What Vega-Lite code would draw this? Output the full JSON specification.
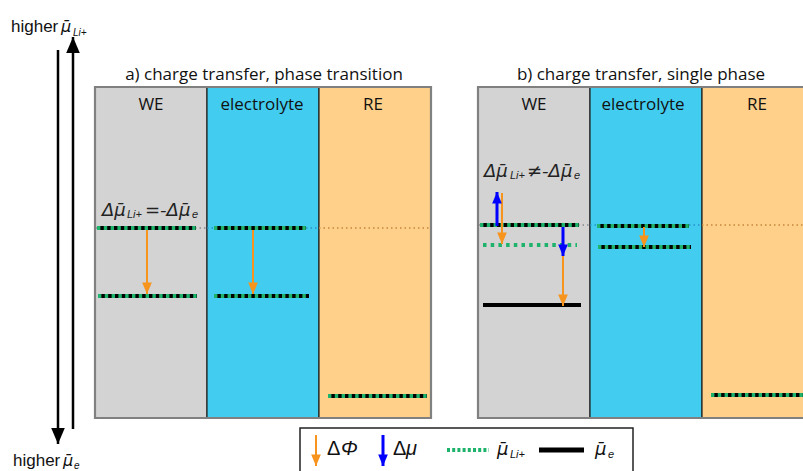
{
  "$schema": "https://vega.github.io/schema/vega-lite/v6.json",
  "width": 803,
  "height": 471,
  "padding": 0,
  "autosize": {"type": "none"},
  "background": "white",
  "config": {"view": {"stroke": null}},
  "resolve": {"scale": {"fill": "independent", "stroke": "independent", "strokeWidth": "independent"}},
  "datasets": {
    "regions": [
      {"panel": "a", "region": "WE", "x": 95, "x2": 207, "y": 87, "y2": 418},
      {"panel": "a", "region": "electrolyte", "x": 207, "x2": 319, "y": 87, "y2": 418},
      {"panel": "a", "region": "RE", "x": 319, "x2": 431, "y": 87, "y2": 418},
      {"panel": "b", "region": "WE", "x": 478, "x2": 590, "y": 87, "y2": 418},
      {"panel": "b", "region": "electrolyte", "x": 590, "x2": 702, "y": 87, "y2": 418},
      {"panel": "b", "region": "RE", "x": 702, "x2": 814, "y": 87, "y2": 418}
    ],
    "panels": [
      {"panel": "a", "x": 95, "x2": 431, "y": 87, "y2": 418},
      {"panel": "b", "x": 478, "x2": 814, "y": 87, "y2": 418}
    ],
    "refs": [
      {"tone": "WE", "x": 96, "x2": 207, "y": 228},
      {"tone": "electrolyte", "x": 207, "x2": 319, "y": 228},
      {"tone": "RE", "x": 319, "x2": 431, "y": 228},
      {"tone": "WE", "x": 479, "x2": 590, "y": 225},
      {"tone": "electrolyte", "x": 590, "x2": 702, "y": 225},
      {"tone": "RE", "x": 702, "x2": 803, "y": 225}
    ],
    "levels": [
      {"kind": "both", "x": 97, "x2": 196, "y": 228},
      {"kind": "both", "x": 98, "x2": 197, "y": 296},
      {"kind": "both", "x": 214, "x2": 306, "y": 228},
      {"kind": "both", "x": 214, "x2": 309, "y": 296},
      {"kind": "both", "x": 328, "x2": 427, "y": 396},
      {"kind": "both", "x": 480, "x2": 579, "y": 225},
      {"kind": "li", "x": 483, "x2": 577, "y": 245},
      {"kind": "e", "x": 483, "x2": 581, "y": 305},
      {"kind": "both", "x": 597, "x2": 689, "y": 226},
      {"kind": "both", "x": 598, "x2": 691, "y": 247},
      {"kind": "both", "x": 711, "x2": 803, "y": 395}
    ],
    "legendlines": [
      {"kind": "li", "x": 447, "x2": 489, "y": 450},
      {"kind": "e", "x": 539, "x2": 584, "y": 450}
    ],
    "arrows": [
      {"kind": "phi", "dir": "down", "x": 147, "y": 230, "y2": 294},
      {"kind": "phi", "dir": "down", "x": 253, "y": 230, "y2": 294},
      {"kind": "mu", "dir": "up", "x": 497, "y": 226, "y2": 192},
      {"kind": "phi", "dir": "down", "x": 502, "y": 193, "y2": 244},
      {"kind": "mu", "dir": "down", "x": 563, "y": 227, "y2": 256},
      {"kind": "phi", "dir": "down", "x": 563, "y": 256, "y2": 306},
      {"kind": "phi", "dir": "down", "x": 644, "y": 227, "y2": 247},
      {"kind": "phi", "dir": "down", "x": 316, "y": 435, "y2": 466},
      {"kind": "mu", "dir": "down", "x": 383, "y": 435, "y2": 466}
    ],
    "bigarrows": [
      {"dir": "up", "x": 73, "y": 429, "y2": 37},
      {"dir": "down", "x": 58, "y": 50, "y2": 444}
    ],
    "legendbox": [{"x": 300, "x2": 633, "y": 428, "y2": 480}],
    "titles": [
      {"label": "a) charge transfer, phase transition", "x": 264, "y": 80},
      {"label": "b) charge transfer, single phase", "x": 641, "y": 80}
    ],
    "headers": [
      {"label": "WE", "x": 151, "y": 110},
      {"label": "electrolyte", "x": 262, "y": 110},
      {"label": "RE", "x": 373, "y": 110},
      {"label": "WE", "x": 534, "y": 110},
      {"label": "electrolyte", "x": 643, "y": 110},
      {"label": "RE", "x": 757, "y": 110}
    ],
    "mathbig": [
      {"label": "Δμ̄", "x": 102, "y": 216},
      {"label": "=-Δμ̄", "x": 145, "y": 216},
      {"label": "Δμ̄", "x": 484, "y": 177},
      {"label": "≠-Δμ̄", "x": 527, "y": 177}
    ],
    "mathsub": [
      {"label": "Li+", "x": 127, "y": 218},
      {"label": "e", "x": 192, "y": 218},
      {"label": "Li+", "x": 510, "y": 179},
      {"label": "e", "x": 574, "y": 179}
    ],
    "legendup": [
      {"label": "Δ", "x": 327, "y": 455},
      {"label": "Δ", "x": 393, "y": 455}
    ],
    "legendit": [
      {"label": "Φ", "x": 341, "y": 455},
      {"label": "μ", "x": 406, "y": 455}
    ],
    "legendbar": [
      {"label": "μ̄", "x": 497, "y": 455},
      {"label": "μ̄", "x": 595, "y": 455}
    ],
    "legendsub": [
      {"label": "Li+", "x": 510, "y": 458},
      {"label": "e", "x": 608, "y": 458}
    ],
    "higher": [
      {"label": "higher", "x": 11, "y": 32},
      {"label": "higher", "x": 13, "y": 466}
    ],
    "higherbar": [
      {"label": "μ̄", "x": 61, "y": 32},
      {"label": "μ̄", "x": 63, "y": 466}
    ],
    "highersub": [
      {"label": "Li+", "x": 73, "y": 36},
      {"label": "e", "x": 74, "y": 469}
    ]
  },
  "encoding": {
    "x": {"field": "x", "type": "quantitative", "scale": {"domain": [0, 803], "zero": false, "nice": false}, "axis": null},
    "y": {"field": "y", "type": "quantitative", "scale": {"domain": [0, 471], "reverse": true, "zero": false, "nice": false}, "axis": null}
  },
  "layer": [
    {
      "data": {"name": "regions"},
      "mark": {"type": "rect", "stroke": "#222222", "strokeWidth": 1.2},
      "encoding": {
        "x2": {"field": "x2"},
        "y2": {"field": "y2"},
        "fill": {"field": "region", "type": "nominal", "scale": {"domain": ["WE", "electrolyte", "RE"], "range": ["#d3d3d3", "#42cdf0", "#fed089"]}, "legend": null}
      }
    },
    {
      "data": {"name": "panels"},
      "mark": {"type": "rect", "fill": null, "stroke": "#808080", "strokeWidth": 2.2},
      "encoding": {"x2": {"field": "x2"}, "y2": {"field": "y2"}}
    },
    {
      "data": {"name": "refs"},
      "mark": {"type": "rule", "strokeWidth": 1.5, "strokeDash": [1.5, 3]},
      "encoding": {
        "x2": {"field": "x2"},
        "stroke": {"field": "tone", "type": "nominal", "scale": {"domain": ["WE", "electrolyte", "RE"], "range": ["#8a8a8a", "#2a90c8", "#c8843c"]}, "legend": null}
      }
    },
    {
      "data": {"name": "levels"},
      "transform": [{"filter": "datum.kind !== 'li'"}],
      "mark": {"type": "rule", "stroke": "#000000", "strokeWidth": 4},
      "encoding": {"x2": {"field": "x2"}}
    },
    {
      "data": {"name": "levels"},
      "transform": [{"filter": "datum.kind === 'both'"}],
      "mark": {"type": "rule", "stroke": "#1db36a", "strokeWidth": 4, "strokeDash": [3.4, 3.4]},
      "encoding": {"x2": {"field": "x2"}}
    },
    {
      "data": {"name": "levels"},
      "transform": [{"filter": "datum.kind === 'li'"}],
      "mark": {"type": "rule", "stroke": "#1db36a", "strokeWidth": 4, "strokeDash": [3.5, 4.2]},
      "encoding": {"x2": {"field": "x2"}}
    },
    {
      "data": {"name": "legendbox"},
      "mark": {"type": "rect", "fill": "white", "stroke": "#222222", "strokeWidth": 1.5},
      "encoding": {"x2": {"field": "x2"}, "y2": {"field": "y2"}}
    },
    {
      "data": {"name": "legendlines"},
      "transform": [{"filter": "datum.kind === 'li'"}],
      "mark": {"type": "rule", "stroke": "#1db36a", "strokeWidth": 4, "strokeDash": [3, 2.2]},
      "encoding": {"x2": {"field": "x2"}}
    },
    {
      "data": {"name": "legendlines"},
      "transform": [{"filter": "datum.kind === 'e'"}],
      "mark": {"type": "rule", "stroke": "#000000", "strokeWidth": 5},
      "encoding": {"x2": {"field": "x2"}}
    },
    {
      "data": {"name": "arrows"},
      "mark": {"type": "rule"},
      "encoding": {
        "y2": {"field": "y2"},
        "stroke": {"field": "kind", "type": "nominal", "scale": {"domain": ["phi", "mu"], "range": ["#f7941d", "#0000ff"]}, "legend": null},
        "strokeWidth": {"field": "kind", "type": "nominal", "scale": {"domain": ["phi", "mu"], "range": [2, 3]}, "legend": null}
      }
    },
    {
      "data": {"name": "arrows"},
      "transform": [{"filter": "datum.dir === 'down'"}],
      "mark": {"type": "point", "filled": true, "opacity": 1, "strokeWidth": 0, "shape": "M-0.85,-2L0.85,-2L0,0Z", "size": 130},
      "encoding": {
        "y": {"field": "y2", "type": "quantitative"},
        "fill": {"field": "kind", "type": "nominal", "scale": {"domain": ["phi", "mu"], "range": ["#f7941d", "#0000ff"]}, "legend": null}
      }
    },
    {
      "data": {"name": "arrows"},
      "transform": [{"filter": "datum.dir === 'up'"}],
      "mark": {"type": "point", "filled": true, "opacity": 1, "strokeWidth": 0, "shape": "M-0.85,2L0.85,2L0,0Z", "size": 130},
      "encoding": {
        "y": {"field": "y2", "type": "quantitative"},
        "fill": {"field": "kind", "type": "nominal", "scale": {"domain": ["phi", "mu"], "range": ["#f7941d", "#0000ff"]}, "legend": null}
      }
    },
    {
      "data": {"name": "bigarrows"},
      "mark": {"type": "rule", "stroke": "#000000", "strokeWidth": 2.5},
      "encoding": {"y2": {"field": "y2"}}
    },
    {
      "data": {"name": "bigarrows"},
      "transform": [{"filter": "datum.dir === 'up'"}],
      "mark": {"type": "point", "filled": true, "opacity": 1, "strokeWidth": 0, "color": "#000000", "shape": "M-0.85,2L0.85,2L0,0Z", "size": 256},
      "encoding": {"y": {"field": "y2", "type": "quantitative"}}
    },
    {
      "data": {"name": "bigarrows"},
      "transform": [{"filter": "datum.dir === 'down'"}],
      "mark": {"type": "point", "filled": true, "opacity": 1, "strokeWidth": 0, "color": "#000000", "shape": "M-0.85,-2L0.85,-2L0,0Z", "size": 256},
      "encoding": {"y": {"field": "y2", "type": "quantitative"}}
    },
    {
      "data": {"name": "titles"},
      "mark": {"type": "text", "font": "Open Sans", "fontSize": 17, "align": "center", "baseline": "alphabetic", "color": "#111111"},
      "encoding": {"text": {"field": "label"}}
    },
    {
      "data": {"name": "headers"},
      "mark": {"type": "text", "font": "Open Sans", "fontSize": 17, "align": "center", "baseline": "alphabetic", "color": "#111111"},
      "encoding": {"text": {"field": "label"}}
    },
    {
      "data": {"name": "mathbig"},
      "mark": {"type": "text", "font": "DejaVu Sans", "fontStyle": "italic", "fontSize": 18, "align": "left", "baseline": "alphabetic", "color": "#222222"},
      "encoding": {"text": {"field": "label"}}
    },
    {
      "data": {"name": "mathsub"},
      "mark": {"type": "text", "font": "Liberation Sans", "fontStyle": "italic", "fontSize": 11, "align": "left", "baseline": "alphabetic", "color": "#222222"},
      "encoding": {"text": {"field": "label"}}
    },
    {
      "data": {"name": "legendup"},
      "mark": {"type": "text", "font": "Liberation Sans", "fontSize": 20, "align": "left", "baseline": "alphabetic", "color": "#111111"},
      "encoding": {"text": {"field": "label"}}
    },
    {
      "data": {"name": "legendit"},
      "mark": {"type": "text", "font": "Liberation Sans", "fontStyle": "italic", "fontSize": 20, "align": "left", "baseline": "alphabetic", "color": "#111111"},
      "encoding": {"text": {"field": "label"}}
    },
    {
      "data": {"name": "legendbar"},
      "mark": {"type": "text", "font": "DejaVu Sans", "fontStyle": "italic", "fontSize": 18, "align": "left", "baseline": "alphabetic", "color": "#111111"},
      "encoding": {"text": {"field": "label"}}
    },
    {
      "data": {"name": "legendsub"},
      "mark": {"type": "text", "font": "Liberation Sans", "fontStyle": "italic", "fontSize": 11, "align": "left", "baseline": "alphabetic", "color": "#111111"},
      "encoding": {"text": {"field": "label"}}
    },
    {
      "data": {"name": "higher"},
      "mark": {"type": "text", "font": "Liberation Sans", "fontSize": 17, "align": "left", "baseline": "alphabetic", "color": "#111111"},
      "encoding": {"text": {"field": "label"}}
    },
    {
      "data": {"name": "higherbar"},
      "mark": {"type": "text", "font": "DejaVu Sans", "fontStyle": "italic", "fontSize": 16, "align": "left", "baseline": "alphabetic", "color": "#111111"},
      "encoding": {"text": {"field": "label"}}
    },
    {
      "data": {"name": "highersub"},
      "mark": {"type": "text", "font": "Liberation Sans", "fontStyle": "italic", "fontSize": 10, "align": "left", "baseline": "alphabetic", "color": "#111111"},
      "encoding": {"text": {"field": "label"}}
    }
  ]
}
